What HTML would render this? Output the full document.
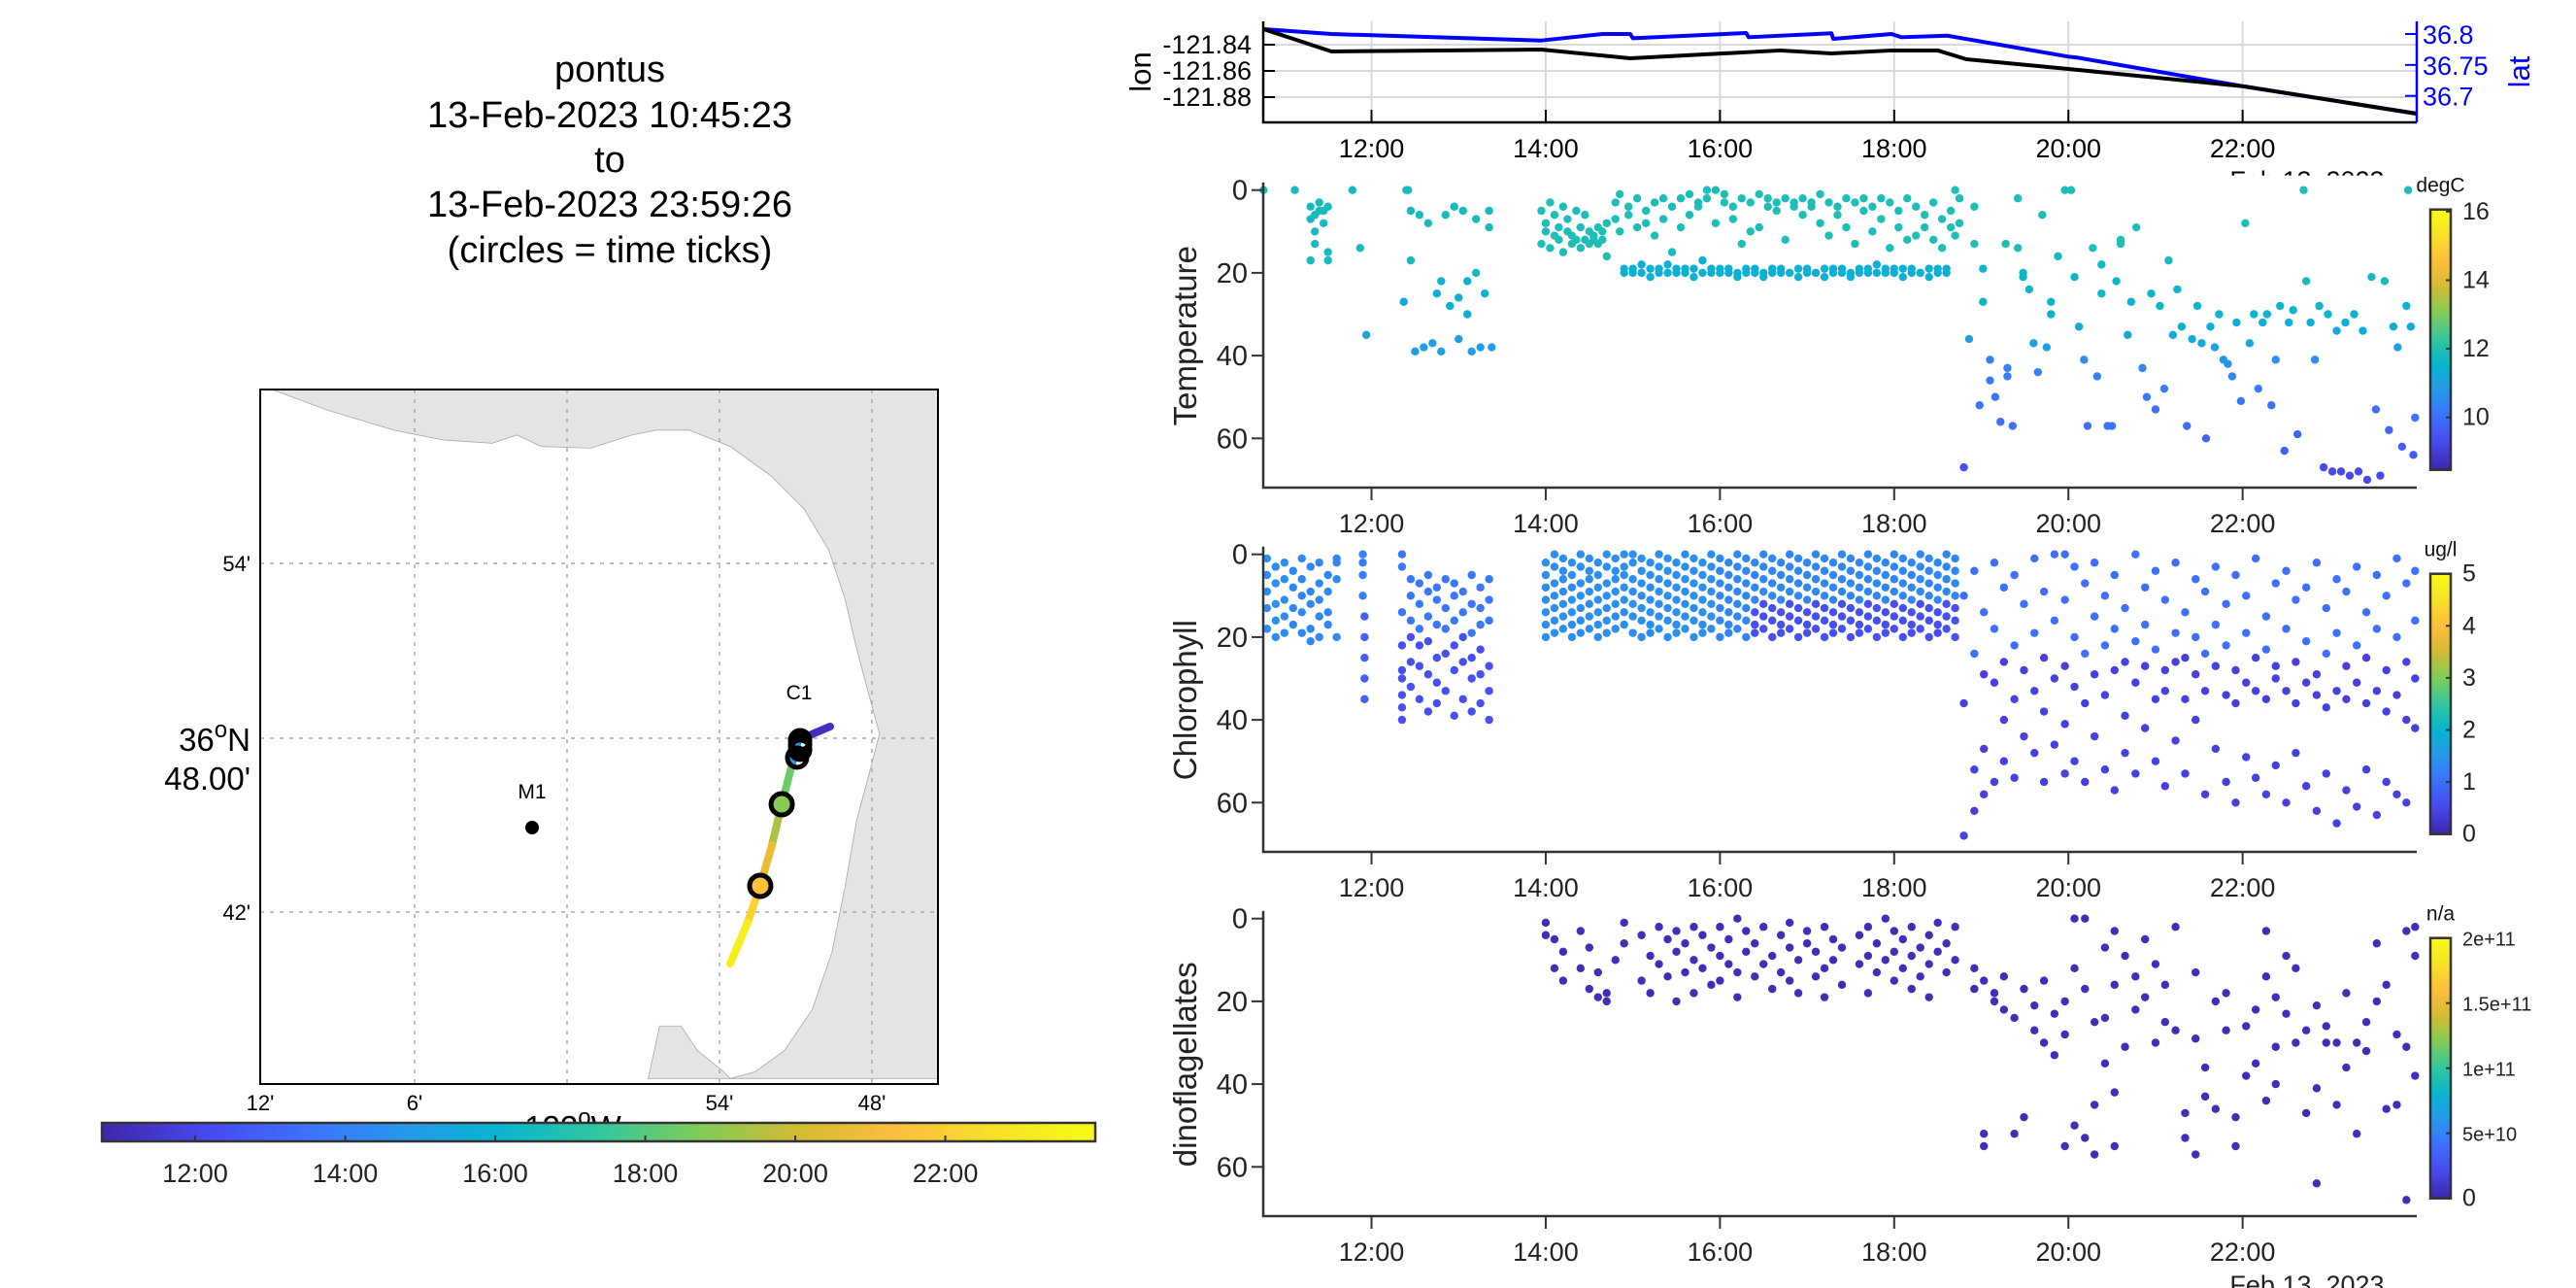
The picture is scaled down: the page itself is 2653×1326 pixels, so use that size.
<!DOCTYPE html>
<html><head><meta charset="utf-8">
<style>
html,body{margin:0;padding:0;background:#fff;}
svg{display:block;font-family:"Liberation Sans",Arial,sans-serif;}
</style></head>
<body>
<svg id="fig" width="2653" height="1326" viewBox="0 0 2653 1326" xmlns="http://www.w3.org/2000/svg">
<rect x="0" y="0" width="2653" height="1326" fill="#fff"/>
<g font-size="38" text-anchor="middle" fill="#000">
<text x="628" y="84">pontus</text>
<text x="628" y="131">13-Feb-2023 10:45:23</text>
<text x="628" y="177">to</text>
<text x="628" y="223">13-Feb-2023 23:59:26</text>
<text x="628" y="270">(circles = time ticks)</text>
</g>
<g id="map"></g>
<g id="top"></g>
<g id="p1"></g>
<g id="p2"></g>
<g id="p3"></g>
</svg>
<script>
// ---------- data ----------
const trackLon=[-121.8273,-121.8483,-121.8528,-121.8591,-121.8655,-121.8732,-121.8815,-121.8929];
const trackLat=[36.8067,36.7989,36.7833,36.7621,36.7387,36.7153,36.6941,36.6707];
const trackTime=[10.76,11.5,18.0,18.8,20.0,21.5,22.6,23.99];
const circleIdx=[3,5];
const lonTimes=[10.76,11.54,13.95,14.97,16.69,17.28,17.97,18.5,18.83,20.0,22.03,23.99];
const lonValues=[-121.8281,-121.8452,-121.8437,-121.8504,-121.8444,-121.8467,-121.8444,-121.8444,-121.8511,-121.8585,-121.8719,-121.8926];
const latTimes=[10.76,11.54,13.95,14.65,14.97,15.0,16.30,16.33,17.28,17.30,17.97,18.08,18.61,20.0,20.1,22.03,23.99];
const latValues=[36.8078,36.8,36.7895,36.8,36.8,36.7932,36.8016,36.7948,36.8011,36.7922,36.8,36.7948,36.7973,36.7634,36.7619,36.7148,36.6717];
const timeTicks=[12,14,16,18,20,22];
const timeTickLabels=["12:00","14:00","16:00","18:00","20:00","22:00"];
const lonTicks=[-121.84,-121.86,-121.88];
const latTicks=[36.8,36.75,36.7];
const depthTicks=[0,20,40,60];
const tempCbTicks=[10,12,14,16];
const chlCbTicks=[0,1,2,3,4,5];
const dinoCbTicks=[0,0.5e11,1e11,1.5e11,2e11];
const dinoCbLabels=["0","5e+10","1e+11","1.5e+11","2e+11"];
// rows: [time, value, depth, depth, ...]
const tempRows=[[10.76,11.8,0],[11.12,11.8,0],[11.3,11.8,4,7,17],[11.35,11.8,6,10,13],[11.4,11.8,3,5],[11.45,11.8,5,8],[11.5,11.8,4,15,17],[11.78,11.8,0],[11.87,11.8,14],[11.94,11.0,35],[12.37,11.2,27],[12.4,11.8,0],[12.42,11.8,0],[12.45,11.8,5,17],[12.5,10.9,39],[12.55,11.8,6],[12.6,10.9,38],[12.65,11.8,8],[12.7,10.9,37],[12.75,11.4,25],[12.8,10.9,39],[12.8,11.4,22],[12.85,11.8,6],[12.9,11.4,28],[12.95,11.8,4],[13.0,10.9,36],[13.0,11.4,26],[13.05,11.8,5],[13.1,11.4,30,22],[13.15,10.9,39],[13.2,11.8,7,20],[13.25,10.9,38],[13.3,11.4,25],[13.35,11.8,5,9],[13.38,10.9,38],
[13.95,11.9,5,13],[14.0,11.9,8,10],[14.05,11.9,3,14],[14.1,11.9,6,11],[14.15,11.9,9,12],[14.2,11.9,4,15],[14.25,11.9,7,10],[14.3,11.9,11,13],[14.35,11.9,5,12],[14.4,11.9,9,14],[14.45,11.9,12,6],[14.5,11.9,10,13],[14.55,11.9,11,12],[14.6,11.9,13,9],[14.65,11.9,12,10],[14.7,11.9,8,16],[14.8,11.9,3,7],[14.85,11.9,1,10],[14.9,11.4,19,20],[14.95,11.9,4,6],[15.0,11.4,20,19],[15.05,11.9,2,9],[15.1,11.4,20,18],[15.15,11.9,5,8],[15.2,11.4,19,21],[15.25,11.9,3,11],[15.3,11.4,20,19],[15.35,11.9,7,2],[15.4,11.4,20,18],[15.45,11.9,4,15],[15.5,11.4,19,20],[15.55,11.9,2,9],[15.6,11.4,20,19],[15.65,11.9,1,6],[15.7,11.4,19,21],[15.75,11.9,3,4],[15.8,11.4,20,17],[15.85,11.9,2,0],[15.9,11.4,19,20],[15.95,11.9,0,8],[16.0,11.4,20,19],[16.05,11.9,1,3],[16.1,11.4,20,19],[16.15,11.9,4,7],[16.2,11.4,21,20],[16.25,11.9,2,13],[16.3,11.4,19,20],[16.35,11.9,3,10],[16.4,11.4,20,19],[16.45,11.9,1,9],[16.5,11.4,20,21],[16.55,11.9,4,2],[16.6,11.4,19,20],[16.65,11.9,3,5],[16.7,11.4,20,19],[16.75,11.9,2,12],[16.8,11.4,20,20],[16.85,11.9,4,3],[16.9,11.4,19,21],[16.95,11.9,2,6],[17.0,11.4,20,19],[17.05,11.9,3,4],[17.1,11.4,20,20],[17.15,11.9,1,8],[17.2,11.4,19,21],[17.25,11.9,3,11],[17.3,11.4,20,19],[17.35,11.9,4,6],[17.4,11.4,20,19],[17.45,11.9,2,9],[17.5,11.4,21,20],[17.55,11.9,3,13],[17.6,11.4,19,20],[17.65,11.9,5,2],[17.7,11.4,20,19],[17.75,11.9,4,10],[17.8,11.4,18,20],[17.85,11.9,2,7],[17.9,11.4,20,19],[17.95,11.9,3,14],[18.0,11.4,20,19],[18.05,11.9,5,9],[18.1,11.4,19,21],[18.15,11.9,2,12],[18.2,11.4,20,19],[18.25,11.9,4,11],[18.3,11.4,20,20],[18.35,11.9,6,9],[18.4,11.4,19,21],[18.45,11.9,3,12],[18.5,11.4,20,19],[18.55,11.9,7,14],[18.6,11.4,20,19],[18.65,11.9,5,9],[18.7,11.9,0,11],[18.75,11.9,2,8],
[18.8,9.4,67],[18.86,10.9,36],[18.92,11.9,4,13],[18.98,10.1,52],[19.02,11.6,19,27],[19.1,10.3,46,41],[19.16,10.1,50],[19.22,10.0,56],[19.28,11.9,13],[19.3,10.3,45,43],[19.36,10.0,57],[19.42,11.9,14,2],[19.48,11.6,20,21],[19.55,11.6,24],[19.6,11.0,37],[19.65,10.4,44],[19.7,11.9,6],[19.75,11.0,38],[19.8,11.5,30,27],[19.88,11.7,16],[19.96,11.9,0],[20.03,11.9,0],[20.07,11.6,21],[20.12,11.2,33],[20.18,10.5,41],[20.22,10.0,57],[20.28,11.9,14],[20.33,10.3,45],[20.38,11.6,25,18],[20.45,10.0,57],[20.5,10.0,57],[20.55,11.6,22],[20.6,11.9,13,12],[20.68,11.2,35],[20.72,11.5,27],[20.78,11.9,9],[20.85,10.4,43],[20.9,10.2,50],[20.95,11.6,25],[21.0,10.0,53],[21.05,11.6,28],[21.1,10.2,48],[21.15,11.8,17],[21.2,11.2,35],[21.25,11.6,24],[21.3,11.4,33],[21.36,10.0,57],[21.42,11.2,36],[21.48,11.6,28],[21.53,11.2,37],[21.58,9.8,60],[21.63,11.4,33],[21.68,11.0,38],[21.73,11.5,30],[21.78,10.8,41],[21.83,10.8,42],[21.88,10.4,45],[21.93,11.4,32],[21.98,10.2,51],[22.03,11.9,8],[22.08,11.2,37],[22.13,11.5,30],[22.18,10.2,48],[22.23,11.4,32],[22.28,11.5,30],[22.33,10.0,52],[22.38,10.6,41],[22.43,11.6,28],[22.48,9.7,63],[22.53,11.4,32],[22.58,11.5,29],[22.63,9.8,59],[22.7,11.9,0],[22.73,11.8,22],[22.78,11.4,32],[22.83,10.6,41],[22.88,11.6,28],[22.93,9.3,67],[22.98,11.5,30],[23.03,9.3,68],[23.08,11.2,34],[23.13,9.3,68],[23.18,11.4,32],[23.23,9.3,69],[23.28,11.4,30],[23.33,9.3,68],[23.38,11.3,34],[23.43,9.3,70],[23.48,11.8,21],[23.53,10.0,53],[23.58,9.3,69],[23.63,11.8,22],[23.68,9.8,58],[23.73,11.3,33],[23.78,11.0,38],[23.83,9.7,62],[23.88,11.5,28],[23.9,11.9,0],[23.93,11.3,33],[23.96,9.6,64],[23.98,10.1,55]];
const chlRows=[[10.8,1.4,1,5,9,13,18],[10.9,1.4,3,7,12,16,20],[11.0,1.4,2,6,11,15,19],[11.1,1.3,4,8,13,17],[11.2,1.3,1,6,10,14,19],[11.3,1.3,3,9,12,18,21],[11.4,1.3,2,7,11,15,20],[11.5,1.3,5,9,14,17],[11.6,1.3,1,2,6,20],
[11.9,1.2,0,2,5,10],[11.92,0.8,15,20,25,30,35],
[12.35,1.1,0,3,14],[12.35,0.6,22,28,30,34,37,40],[12.45,1.1,6,10,16],[12.45,0.6,20,26,32],[12.55,1.1,7,12,18],[12.55,0.6,22,27,35],[12.65,1.1,5,9,15],[12.65,0.6,21,29,38],[12.75,1.1,8,11,17],[12.75,0.6,25,31,36],[12.85,1.1,6,13,18],[12.85,0.6,24,33],[12.95,1.1,7,10,16],[12.95,0.6,22,28,39],[13.05,1.1,9,14],[13.05,0.6,20,26,35],[13.15,1.1,5,12,19],[13.15,0.6,25,30,38],[13.25,1.1,8,13,17],[13.25,0.6,23,29,36],[13.35,1.1,6,11,16],[13.35,0.6,27,33,40],
[14.0,1.4,2,5,8,11,14,17,20],[14.1,1.4,0,3,7,10,13,16,19],[14.2,1.4,1,4,6,9,12,15,18],[14.3,1.4,2,5,8,11,14,17,20],[14.4,1.4,0,3,7,10,13,16,19],[14.5,1.4,1,4,6,9,12,15,18],[14.6,1.4,2,5,8,11,14,17,20],[14.7,1.4,0,3,7,10,13,16,19],[14.8,1.4,1,4,6,9,12,15,18],[14.9,1.4,0,3,5,8,11,14,17],[15.0,1.4,0,2,6,9,12,15,19],[15.1,1.4,1,4,7,10,13,16,20],[15.2,1.4,2,5,8,11,14,17,19],[15.3,1.4,0,3,6,9,12,15,18],[15.4,1.4,1,4,7,10,13,16,20],[15.5,1.4,2,5,8,11,14,17,19],[15.6,1.4,0,3,6,9,12,15,18],[15.7,1.4,1,4,7,10,13,16,20],[15.8,1.4,2,5,8,11,14,17,19],[15.9,1.4,0,3,6,9,12,15,18],[16.0,1.3,1,4,7,10,13,16,20],[16.1,1.3,2,5,8,11,14,17,19],[16.2,1.3,0,3,6,9,12,15,18],[16.3,1.3,1,4,7,10,13,16,20],
[16.4,1.3,2,5,8,11],[16.4,0.6,14,17,19],[16.5,1.3,0,3,6,9],[16.5,0.6,12,15,18],[16.6,1.3,1,4,7,10],[16.6,0.6,13,16,20],[16.7,1.3,2,5,8,11],[16.7,0.6,14,17,19],[16.8,1.3,0,3,6,9],[16.8,0.6,12,15,18],[16.9,1.3,1,4,7,10],[16.9,0.6,13,16,20],[17.0,1.3,2,5,8,11],[17.0,0.6,14,17,19],[17.1,1.3,0,3,6,9],[17.1,0.6,12,15,18],[17.2,1.3,1,4,7,10],[17.2,0.6,13,16,20],[17.3,1.3,2,5,8,11],[17.3,0.6,14,17,19],[17.4,1.3,0,3,6,9],[17.4,0.6,12,15,18],[17.5,1.3,1,4,7,10],[17.5,0.6,13,16,20],[17.6,1.3,2,5,8,11],[17.6,0.6,14,17,19],[17.7,1.3,0,3,6,9],[17.7,0.6,12,15,18],[17.8,1.3,1,4,7,10],[17.8,0.6,13,16,20],[17.9,1.3,2,5,8,11],[17.9,0.6,14,17,19],[18.0,1.3,0,3,6,9],[18.0,0.6,12,15,18],[18.1,1.3,1,4,7,10],[18.1,0.6,13,16,20],[18.2,1.3,2,5,8,11],[18.2,0.6,14,17,19],[18.3,1.3,0,3,6,9],[18.3,0.6,12,15,18],[18.4,1.3,1,4,7,10],[18.4,0.6,13,16,20],[18.5,1.3,2,5,8,11],[18.5,0.6,14,17,19],[18.6,1.3,0,3,6,9],[18.6,0.6,12,15,18],[18.7,1.3,1,4,7,10],[18.7,0.6,13,16,20],
[18.8,1.0,10],[18.8,0.4,36,68],[18.92,1.0,4,24],[18.92,0.4,52,62],[19.03,1.0,14],[19.03,0.4,29,47,58],[19.15,1.0,2,18],[19.15,0.4,31,55],[19.26,1.0,8],[19.26,0.4,26,40,50],[19.38,1.0,5,22],[19.38,0.4,35,54],[19.49,1.0,12],[19.49,0.4,28,44],[19.61,1.0,1,19],[19.61,0.4,33,48],[19.72,1.0,9],[19.72,0.4,25,38,55],[19.84,1.0,0,16],[19.84,0.4,30,46],[19.96,1.0,0,11],[19.96,0.4,27,41,53],[20.07,1.0,3,20],[20.07,0.4,32,50],[20.19,1.0,7,24],[20.19,0.4,36,55],[20.30,1.0,2,15],[20.30,0.4,29,44],[20.42,1.0,10,22],[20.42,0.4,34,52],[20.53,1.0,5,18],[20.53,0.4,28,57],[20.65,1.0,13],[20.65,0.4,26,39,48],[20.77,1.0,0,21],[20.77,0.4,31,53],[20.88,1.0,8,17],[20.88,0.4,27,42],[21.0,1.0,4,23],[21.0,0.4,35,50],[21.11,1.0,11],[21.11,0.4,28,33,56],[21.23,1.0,2,19],[21.23,0.4,26,45],[21.34,1.0,14],[21.34,0.4,25,35,53],[21.46,1.0,6,20],[21.46,0.4,29,40],[21.57,1.0,9,24],[21.57,0.4,33,58],[21.69,1.0,3,17],[21.69,0.4,27,47],[21.81,1.0,12,22],[21.81,0.4,34,55],[21.92,1.0,5],[21.92,0.4,28,36,60],[22.04,1.0,10,19],[22.04,0.4,31,49],[22.15,1.0,1],[22.15,0.4,25,33,54],[22.27,1.0,15,23],[22.27,0.4,35,58],[22.38,1.0,7],[22.38,0.4,27,30,51],[22.50,1.0,4,18],[22.50,0.4,33,60],[22.61,1.0,11],[22.61,0.4,26,36,48],[22.73,1.0,8,21],[22.73,0.4,31,56],[22.85,1.0,2],[22.85,0.4,29,34,62],[22.96,1.0,13,24],[22.96,0.4,37,53],[23.08,1.0,6,19],[23.08,0.4,33,65],[23.19,1.0,9],[23.19,0.4,27,35,57],[23.31,1.0,3,22],[23.31,0.4,31,61],[23.42,1.0,14],[23.42,0.4,25,36,52],[23.54,1.0,5,18],[23.54,0.4,33,63],[23.65,1.0,10],[23.65,0.4,28,38,55],[23.77,1.0,1,20],[23.77,0.4,34,58],[23.88,1.0,7],[23.88,0.4,26,40,60],[23.98,1.0,4,16],[23.98,0.4,30,42]];
const dinoRows=[[14.0,1,4],[14.1,5,12],[14.2,8,15],[14.4,3,12],[14.5,7,17],[14.6,13,19],[14.7,18,20],[14.8,10],[14.9,1,6],[15.1,4,15],[15.2,9,18],[15.3,2,11],[15.4,5,14],[15.5,3,8,20],[15.6,6,13],[15.7,2,10,18],[15.8,4,12],[15.9,7,16],[16.0,2,9,15],[16.1,5,11],[16.2,0,13,19],[16.3,3,8],[16.4,6,14],[16.5,2,11],[16.6,9,17],[16.7,4,13],[16.8,1,7,15],[16.9,10,18],[17.0,3,6],[17.1,8,14],[17.2,2,12,19],[17.3,5,10],[17.4,7,16],[17.6,4,11],[17.7,2,9,18],[17.8,6,13],[17.9,0,10],[18.0,3,8,15],[18.1,5,12],[18.2,2,9,17],[18.3,7,14],[18.4,4,11,19],[18.5,1,8],[18.6,6,13],[18.7,2,10],
[18.92,12,17],[19.03,15,52,55],[19.15,18,20],[19.26,14,22],[19.38,24,52],[19.49,17,48],[19.61,21,27],[19.72,15,30],[19.84,23,33],[19.96,20,28,55],[20.07,0,12,50],[20.19,0,17,53],[20.30,25,45,57],[20.42,7,24,35],[20.53,3,16,42,55],[20.65,9,31],[20.77,14,22],[20.88,5,19],[21.0,11,30],[21.11,16,25],[21.23,2,27],[21.34,47,53],[21.46,13,29,57],[21.57,36,43],[21.69,20,46],[21.81,18,27],[21.92,48,55],[22.04,26,38],[22.15,22,35],[22.27,3,14,44],[22.38,19,31,40],[22.50,9,23],[22.61,12,30],[22.73,27,47],[22.85,21,41,64],[22.96,26,30],[23.08,30,45],[23.19,18,36],[23.31,30,52],[23.42,25,32],[23.54,6,20],[23.65,16,46],[23.77,28,45],[23.88,3,31,68],[23.98,2,9,38]];
const dinoValue=5e9;

// ---------- helpers ----------
const NS="http://www.w3.org/2000/svg";
function mk(parent,tag,attrs,txt){const e=document.createElementNS(NS,tag);for(const k in attrs)e.setAttribute(k,attrs[k]);if(txt!==undefined)e.textContent=txt;parent.appendChild(e);return e;}
const PAR=[[0.2422,0.1504,0.6603],[0.2803,0.2782,0.9221],[0.2440,0.4358,0.9988],[0.1540,0.5902,0.9218],[0.0297,0.7082,0.8163],[0.1938,0.7758,0.6251],[0.5044,0.7993,0.3480],[0.8185,0.7327,0.1956],[0.9955,0.7461,0.2373],[0.9598,0.8870,0.1540],[0.9769,0.9839,0.0805]];
function parula(f){f=Math.max(0,Math.min(1,f));const s=f*10,i=Math.min(9,Math.floor(s)),t=s-i;const a=PAR[i],b=PAR[i+1];const c=a.map((v,k)=>Math.round(255*(v+(b[k]-v)*t)));return `rgb(${c[0]},${c[1]},${c[2]})`;}

const X0=1301,X1=2489,T0=10.757,T1=23.999;
function xT(t){return X0+(t-T0)/(T1-T0)*(X1-X0);}

// ---------- top lon/lat panel ----------
(function(){
const g=document.getElementById('top');
const yTop=22,yBot=126;
function yLon(v){return 46+(-121.84-v)*1350;}
function yLat(v){return 35+(36.8-v)*637;}
timeTicks.forEach(t=>{const l=mk(g,'line',{x1:xT(t),x2:xT(t),y1:yTop,y2:yBot,stroke:'#d9d9d9','stroke-width':2});});
lonTicks.forEach(v=>{const l=mk(g,'line',{x1:X0,x2:X1,y1:yLon(v),y2:yLon(v),stroke:'#d9d9d9','stroke-width':2});});
const lp=lonTimes.map((t,i)=>xT(t)+','+yLon(lonValues[i])).join(' ');
const latp=latTimes.map((t,i)=>xT(t)+','+yLat(latValues[i])).join(' ');
const l2=mk(g,'polyline',{points:latp,fill:'none',stroke:'#0000ff','stroke-width':4,'stroke-linejoin':'round'});

const l1=mk(g,'polyline',{points:lp,fill:'none',stroke:'#000','stroke-width':4,'stroke-linejoin':'round'});

const ax=mk(g,'path',{d:`M${X0},${yTop}V${yBot}H${X1}`,fill:'none',stroke:'#000','stroke-width':2.5});

const ax2=mk(g,'line',{x1:X1,x2:X1,y1:yTop,y2:yBot,stroke:'#0000ff','stroke-width':2.5});

lonTicks.forEach(v=>{mk(g,'line',{x1:X0,x2:X0+12,y1:yLon(v),y2:yLon(v),stroke:'#000','stroke-width':2});
 const t=mk(g,'text',{x:X0-12,y:yLon(v)+9,'font-size':27,'text-anchor':'end'},v.toFixed(2));});
latTicks.forEach(v=>{mk(g,'line',{x1:X1-12,x2:X1,y1:yLat(v),y2:yLat(v),stroke:'#0000ff','stroke-width':2});
 const t=mk(g,'text',{x:X1+6,y:yLat(v)+10,'font-size':27,fill:'#0000ff'},String(v));});
timeTicks.forEach((t,i)=>{mk(g,'line',{x1:xT(t),x2:xT(t),y1:yBot,y2:yBot-13,stroke:'#000','stroke-width':2});
 const tx=mk(g,'text',{x:xT(t),y:162,'font-size':27,'text-anchor':'middle'},timeTickLabels[i]);});
const d=mk(g,'text',{x:2376,y:195,'font-size':27,'text-anchor':'middle'},'Feb 13, 2023');
const yl=mk(g,'text',{x:0,y:0,'font-size':31,'text-anchor':'middle',transform:'translate(1185,74) rotate(-90)'},'lon');
const yr=mk(g,'text',{x:0,y:0,'font-size':31,'text-anchor':'middle',fill:'#0000ff',transform:'translate(2605,74) rotate(-90)'},'lat');
})();

// ---------- scatter panels ----------
function scatterPanel(id,y0,rows,title,vmin,vmax,cbTicks,cbLabels,unit,fixedValue){
 const g=document.getElementById(id);
 const k=4.26,bottom=y0+306.3;
 const bg=mk(g,'rect',{x:1160,y:y0-15,width:1493,height:bottom-y0+95,fill:'#fff'});
 
 function yD(d){return y0+d*k;}
 rows.forEach(r=>{const t=r[0];const v=fixedValue!==null?fixedValue:r[1];const start=fixedValue!==null?1:2;
  const col=parula((v-vmin)/(vmax-vmin));
  for(let i=start;i<r.length;i++){const c=mk(g,'circle',{cx:xT(t),cy:yD(r[i]),r:4.2,fill:col});
   }});
 const ax=mk(g,'path',{d:`M${X0},${y0-8}V${bottom}H${X1}`,fill:'none',stroke:'#333','stroke-width':2.5});
 
 depthTicks.forEach(d=>{mk(g,'line',{x1:X0-12,x2:X0,y1:yD(d),y2:yD(d),stroke:'#333','stroke-width':2});
  const t=mk(g,'text',{x:X0-16,y:yD(d)+10,'font-size':29,'text-anchor':'end',fill:'#222'},String(d));});
 timeTicks.forEach((t,i)=>{mk(g,'line',{x1:xT(t),x2:xT(t),y1:bottom,y2:bottom+13,stroke:'#333','stroke-width':2});
  const tx=mk(g,'text',{x:xT(t),y:bottom+46,'font-size':27,'text-anchor':'middle',fill:'#222'},timeTickLabels[i]);});
 const dl=mk(g,'text',{x:2376,y:bottom+80,'font-size':27,'text-anchor':'middle',fill:'#222'},'Feb 13, 2023');
 const yt=mk(g,'text',{x:0,y:0,'font-size':33,'text-anchor':'middle',fill:'#222',transform:`translate(1232,${y0+150}) rotate(-90)`},title);
 const cbTop=y0+20,cbBot=y0+288,cbX=2503,cbW=21;
 const gid='grad'+id;const defs=mk(g,'defs',{});const lg=mk(defs,'linearGradient',{id:gid,x1:0,y1:1,x2:0,y2:0});
 for(let i=0;i<=10;i++)mk(lg,'stop',{offset:i/10,'stop-color':parula(i/10)});
 const cb=mk(g,'rect',{x:cbX,y:cbTop,width:cbW,height:cbBot-cbTop,fill:`url(#${gid})`,stroke:'#333','stroke-width':2.5});
 
 function yC(v){return cbBot-(v-vmin)/(vmax-vmin)*(cbBot-cbTop);}
 cbTicks.forEach((v,i)=>{mk(g,'line',{x1:cbX+cbW-5,x2:cbX+cbW,y1:yC(v),y2:yC(v),stroke:'#333','stroke-width':2});
  const t=mk(g,'text',{x:cbX+cbW+12,y:yC(v)+8,'font-size':cbLabels[i].length>3?20:25,fill:'#222'},cbLabels[i]);});
 const u=mk(g,'text',{x:cbX+cbW/2,y:y0+2,'font-size':21,'text-anchor':'middle',fill:'#111'},unit);
}
scatterPanel('p1',195.7,tempRows,'Temperature',8.47,16.06,tempCbTicks,tempCbTicks.map(String),'degC',null);
scatterPanel('p2',570.7,chlRows,'Chlorophyll',0,5,chlCbTicks,chlCbTicks.map(String),'ug/l',null);
scatterPanel('p3',945.7,dinoRows,'dinoflagellates',0,2e11,dinoCbTicks,dinoCbLabels,'n/a',dinoValue);

// ---------- map ----------
(function(){
const g=document.getElementById('map');
const L=268,R=966,T=401,B=1116;
function mx(lon){return 584+(lon+122)*60*26.15;}
function my(lat){return 760-(lat-36.8)*60*29.9;}
mk(g,'rect',{x:L,y:T,width:R-L,height:B-T,fill:'#fff'});
const land=mk(g,'g',{transform:'scale(1.69,1.69)'});

mk(land,'polygon',{points:'165,237 200,250 240,262 270,268 300,270 315,265 330,272 360,273 385,265 400,262 420,262 445,272 470,290 490,310 505,335 515,365 522,395 530,425 536,447 530,470 522,500 515,540 507,580 495,615 478,640 460,653 445,657 571.6,657 571.6,237',fill:'#e5e5e5',stroke:'#aaa','stroke-width':0.5});
mk(land,'polygon',{points:'395,657 402,625 415,625 425,640 440,652 445,657',fill:'#e5e5e5',stroke:'#aaa','stroke-width':0.5});
const gx=[427,584,741,898],gy=[580,760,939];
gx.forEach(x=>{const l=mk(g,'line',{x1:x,x2:x,y1:T,y2:B,stroke:'#aaa','stroke-width':1.5,'stroke-dasharray':'4,6'});});
gy.forEach(y=>{const l=mk(g,'line',{x1:L,x2:R,y1:y,y2:y,stroke:'#aaa','stroke-width':1.5,'stroke-dasharray':'4,6'});});
const fr=mk(g,'rect',{x:L,y:T,width:R-L,height:B-T,fill:'none',stroke:'#000','stroke-width':2});

for(let i=0;i<trackLon.length-1;i++){const s=mk(g,'line',{x1:mx(trackLon[i]),y1:my(trackLat[i]),x2:mx(trackLon[i+1]),y2:my(trackLat[i+1]),stroke:parula(((trackTime[i]+trackTime[i+1])/2-T0)/(T1-T0)),'stroke-width':8,'stroke-linecap':'round'});
 }
[[1,0],[1,5],[1,10],[2,-10]].forEach(o=>{const c=mk(g,'circle',{cx:mx(trackLon[o[0]])+(o[0]==2?6:2),cy:my(trackLat[o[0]])+o[1],r:10,fill:'none',stroke:'#000','stroke-width':5});});
circleIdx.forEach(i=>{const c=mk(g,'circle',{cx:mx(trackLon[i]),cy:my(trackLat[i]),r:11,fill:parula((trackTime[i]-T0)/(T1-T0)),stroke:'#000','stroke-width':5});});
const m1=mk(g,'circle',{cx:548,cy:852,r:7,fill:'#000'});
const t1=mk(g,'text',{x:548,y:822,'font-size':21,'text-anchor':'middle'},'M1');
const t2=mk(g,'text',{x:823,y:720,'font-size':21,'text-anchor':'middle'},'C1');
[["54'",580,22],["42'",939,22]].forEach(a=>{const t=mk(g,'text',{x:258,y:a[1]+8,'font-size':a[2],'text-anchor':'end'},a[0]);});
const n1=mk(g,'text',{x:258,y:773,'font-size':33,'text-anchor':'end'});
n1.innerHTML='36<tspan dy="-14" font-size="24">o</tspan><tspan dy="14">N</tspan>';
const n2=mk(g,'text',{x:258,y:813,'font-size':33,'text-anchor':'end'},"48.00'");
[["12'",268],["6'",427],["54'",741],["48'",898]].forEach(a=>{const t=mk(g,'text',{x:a[1],y:1143,'font-size':22,'text-anchor':'middle'},a[0]);});
const w=mk(g,'text',{x:590,y:1172,'font-size':33,'text-anchor':'middle'});
w.innerHTML='122<tspan dy="-14" font-size="24">o</tspan><tspan dy="14">W</tspan>';
const defs=mk(g,'defs',{});const lg=mk(defs,'linearGradient',{id:'hgrad',x1:0,y1:0,x2:1,y2:0});
for(let i=0;i<=10;i++)mk(lg,'stop',{offset:i/10,'stop-color':parula(i/10)});
const CBX=105,CBW=1023;
const cb=mk(g,'rect',{x:CBX,y:1156,width:CBW,height:19,fill:'url(#hgrad)',stroke:'#333','stroke-width':2.5});

function cx(t){return CBX+(t-T0)/(T1-T0)*CBW;}
timeTicks.forEach((t,i)=>{mk(g,'line',{x1:cx(t),x2:cx(t),y1:1175,y2:1169,stroke:'#333','stroke-width':2});
 const tx=mk(g,'text',{x:cx(t),y:1217,'font-size':27,'text-anchor':'middle',fill:'#222'},timeTickLabels[i]);});
})();
</script>
</body></html>
